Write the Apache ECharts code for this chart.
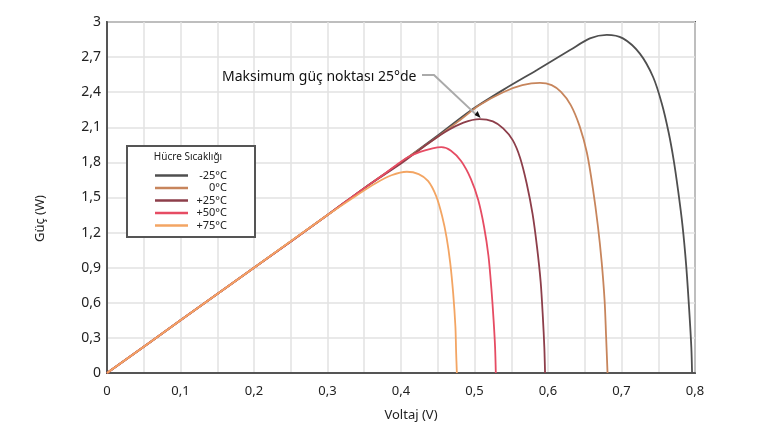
<!DOCTYPE html>
<html>
<head>
<meta charset="utf-8">
<script src="https://cdn.jsdelivr.net/npm/echarts@6/dist/echarts.min.js"></script>
<style>html,body{margin:0;padding:0;background:#fff}#c{width:766px;height:430px}</style>
</head>
<body>
<div id="c"></div>
<script>
// Data: [Voltaj (V), Güç (W)]
const seriesNames = ['-25°C', '0°C', '+25°C', '+50°C', '+75°C'];
const curveM25 = [[0,0],[0.1,0.45],[0.2,0.9],[0.3,1.35],[0.35,1.58],[0.4,1.8],[0.45,2.03],[0.494,2.24],[0.539,2.42],[0.585,2.59],[0.63,2.76],[0.657,2.86],[0.68,2.89],[0.702,2.86],[0.725,2.73],[0.743,2.53],[0.755,2.30],[0.764,2.06],[0.771,1.82],[0.777,1.56],[0.783,1.26],[0.788,0.92],[0.792,0.55],[0.795,0.22],[0.796,0]];
const curve0 = [[0,0],[0.1,0.45],[0.2,0.9],[0.3,1.35],[0.35,1.58],[0.4,1.8],[0.45,2.02],[0.48,2.16],[0.507,2.29],[0.539,2.40],[0.565,2.46],[0.589,2.48],[0.605,2.46],[0.618,2.40],[0.631,2.29],[0.643,2.11],[0.653,1.88],[0.661,1.58],[0.668,1.25],[0.673,0.95],[0.677,0.62],[0.679,0.32],[0.681,0]];
const curveP25 = [[0,0],[0.1,0.45],[0.2,0.9],[0.3,1.35],[0.35,1.58],[0.4,1.79],[0.43,1.93],[0.46,2.06],[0.485,2.14],[0.507,2.17],[0.525,2.15],[0.539,2.09],[0.552,1.99],[0.562,1.84],[0.571,1.62],[0.579,1.36],[0.585,1.08],[0.590,0.78],[0.593,0.48],[0.595,0.22],[0.596,0]];
const curveP50 = [[0,0],[0.1,0.45],[0.2,0.9],[0.3,1.35],[0.35,1.58],[0.375,1.69],[0.392,1.77],[0.408,1.84],[0.426,1.89],[0.443,1.92],[0.455,1.93],[0.468,1.90],[0.482,1.81],[0.495,1.66],[0.505,1.48],[0.513,1.25],[0.519,1.00],[0.523,0.72],[0.526,0.45],[0.528,0.22],[0.529,0]];
const curveP75 = [[0,0],[0.1,0.45],[0.2,0.9],[0.3,1.35],[0.34,1.52],[0.365,1.62],[0.387,1.69],[0.408,1.72],[0.424,1.70],[0.437,1.64],[0.448,1.51],[0.456,1.34],[0.462,1.16],[0.467,0.94],[0.471,0.68],[0.474,0.40],[0.475,0.18],[0.476,0]];
const seriesColors = ['#4f4f4f', '#c7855c', '#8d3e4a', '#e64c63', '#f3a563'];
const xTicks = { min: 0, max: 0.8, interval: 0.1 };
const yTicks = { min: 0, max: 3, interval: 0.3 };
const annotationText = 'Maksimum güç noktası 25°de';
const peak25 = [0.507, 2.17];

const curves = [curveM25, curve0, curveP25, curveP50, curveP75];
const font = '"Noto Sans", "DejaVu Sans", sans-serif';
const chart = echarts.init(document.getElementById('c'));
const fmtNum = v => {
  if (Math.abs(v) < 1e-9) return '0';
  const r = Math.round(v * 10) / 10;
  if (Number.isInteger(r)) return String(r);
  return r.toFixed(1).replace('.', ',');
};
chart.setOption({
  animation: false,
  backgroundColor: '#fff',
  grid: { left: 107, top: 22, right: 71, bottom: 57, show: true, borderColor: '#555', borderWidth: 2, containLabel: false },
  xAxis: {
    type: 'value', min: xTicks.min, max: xTicks.max, interval: xTicks.interval,
    name: 'Voltaj (V)', nameLocation: 'middle', nameGap: 36,
    nameTextStyle: { fontFamily: font, fontSize: 13, color: '#222', padding: [0, 0, 0, 20] },
    axisLine: { show: true, lineStyle: { color: '#555', width: 2 } },
    axisTick: { show: false },
    axisLabel: { fontFamily: font, fontSize: 13, color: '#222', margin: 12, formatter: fmtNum },
    splitLine: { show: true, lineStyle: { color: '#e2e2e2', width: 1.5 } },
    minorTick: { show: false, splitNumber: 2 },
    minorSplitLine: { show: true, lineStyle: { color: '#e2e2e2', width: 1.5 } }
  },
  yAxis: {
    type: 'value', min: yTicks.min, max: yTicks.max, interval: yTicks.interval,
    name: 'Güç (W)', nameLocation: 'middle', nameGap: 60, nameRotate: 90,
    nameTextStyle: { fontFamily: font, fontSize: 13, color: '#222', padding: [0, 42, 0, 0] },
    axisLine: { show: true, lineStyle: { color: '#555', width: 2 } },
    axisTick: { show: false },
    axisLabel: { fontFamily: font, fontSize: 14, color: '#222', margin: 6, formatter: fmtNum },
    splitLine: { show: true, lineStyle: { color: '#e2e2e2', width: 1.5 } }
  },
  legend: {
    orient: 'vertical', left: 150, top: 165, z: 20,
    itemWidth: 33, itemHeight: 2.5, itemGap: 1.5, icon: 'rect',
    formatter: name => '{a|' + name + '}',
    textStyle: { fontFamily: font, fontSize: 11, color: '#222', lineHeight: 10,
      rich: { a: { fontFamily: font, fontSize: 11, color: '#222', width: 34, align: 'right', lineHeight: 10 } } },
    data: seriesNames
  },
  series: curves.map((d, i) => ({
    name: seriesNames[i], type: 'line', data: d, showSymbol: false, symbol: 'none',
    smooth: 0.3,
    lineStyle: { color: seriesColors[i], width: 1.8 }, itemStyle: { color: seriesColors[i] }, z: 3 + i
  }))
});
const pk = chart.convertToPixel({ gridIndex: 0 }, peak25);
chart.setOption({
  graphic: [
    { type: 'rect', z: 10, shape: { x: 127, y: 146, width: 128, height: 91 }, style: { fill: '#fff', stroke: '#555', lineWidth: 2 } },
    { type: 'text', z: 11, x: 188, y: 157, style: { text: 'Hücre Sıcaklığı', font: '10px ' + font, fill: '#222', textAlign: 'center', textVerticalAlign: 'middle' } },
    { type: 'text', z: 11, x: 222, y: 77, style: { text: annotationText, font: '14px ' + font, fill: '#111', textAlign: 'left', textVerticalAlign: 'middle' } },
    { type: 'polyline', z: 11, shape: { points: [[422, 75], [434, 75], [pk[0] - 3, pk[1] - 4]] }, style: { stroke: '#aaa', lineWidth: 2, fill: null } },
    { type: 'polygon', z: 12, shape: { points: [[pk[0] + 1, pk[1] - 1], [pk[0] - 5, pk[1] - 4], [pk[0] - 2, pk[1] - 8]] }, style: { fill: '#111' } }
  ]
});
</script>
</body>
</html>
